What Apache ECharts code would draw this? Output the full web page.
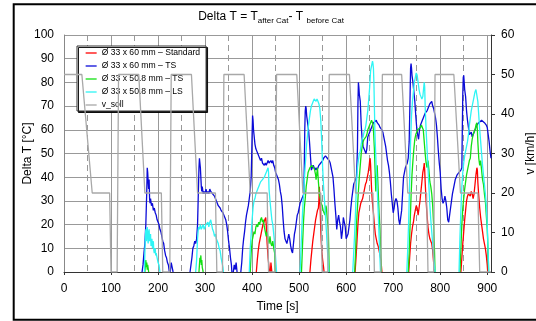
<!DOCTYPE html>
<html>
<head>
<meta charset="utf-8">
<script src="https://cdn.jsdelivr.net/npm/echarts@6/dist/echarts.min.js"></script>
<style>
html,body{margin:0;padding:0;background:#fff;}
#c{width:536px;height:321px;}
</style>
</head>
<body>
<div id="c"></div>
<script>
// ---------- DATA (time [s], value) ----------
const seriesNames = ['Ø 33 x 60 mm – Standard','Ø 33 x 60 mm – TS','Ø 33 x 50.8 mm – TS','Ø 33 x 50.8 mm – LS','v_soll'];

const redStd = [
 [[409,0],[411,5],[413,9],[415,12],[417,14],[419,16],[421,18],[423,20],[425,21],[427,22],[429,23],[430,20],[431,16],[432,12],[433,9],[434,6],[435,4],[437,0]],
 [[439,0],[440,4],[441,2],[442,0]],
 [[523,0],[525,5],[527,9],[529,13],[531,16],[533,19],[535,22],[537,24],[539,26],[541,27],[542,30],[543,36],[544,32],[545,25],[546,18],[547,13],[548,9],[550,5],[552,2],[553,0]],
 [[619,0],[621,6],[623,13],[625,20],[627,25],[629,27],[631,29],[633,30],[635,31],[637,33],[639,35],[641,37],[643,38],[645,40],[647,42],[649,45],[650,47],[651,48],[652,45],[653,40],[654,35],[656,29],[658,25],[660,20],[662,16],[664,14],[666,12],[668,11],[670,9],[672,7],[674,5],[676,0]],
 [[733,0],[735,6],[737,12],[739,16],[741,19],[743,21],[745,24],[747,26],[749,28],[751,27],[753,24],[755,27],[757,30],[759,34],[761,38],[763,42],[765,44],[766,46],[767,43],[768,38],[770,30],[772,24],[774,19],[776,16],[778,14],[780,13],[782,12],[784,9],[786,4],[787,0]],
 [[844,0],[846,6],[848,12],[850,17],[852,22],[854,26],[856,30],[858,32],[860,33],[862,33],[864,32],[866,34],[868,33],[870,31],[872,33],[874,37],[876,41],[878,44],[879,43],[880,38],[882,32],[884,27],[886,23],[888,20],[890,17],[892,14],[894,12],[896,10],[898,7],[900,3],[901,0]]
];

const blueTS = [
 [[166,0],[168,3],[170,8],[172,12],[174,20],[176,34],[177,44],[178,42],[179,38],[180,35],[181,39],[182,31],[183,29],[184,31],[186,28],[188,29],[190,26],[192,27],[194,25],[196,24],[198,22],[200,22],[202,20],[204,18],[206,17],[208,15],[210,13],[212,12],[214,9],[216,7],[218,6],[220,4],[222,3],[224,0]],
 [[226,0],[228,4],[230,2],[232,0]],
 [[268,0],[270,3],[272,6],[274,10],[276,11],[278,13],[280,12],[282,14],[284,20],[285,28],[286,36],[287,44],[288,48],[289,46],[290,44],[291,40],[292,36],[293,34],[294,36],[296,33],[298,34],[300,33],[302,35],[304,33],[306,34],[308,33],[310,35],[312,34],[314,34],[316,33],[318,33],[320,32],[322,31],[324,30],[326,29],[328,28],[330,28],[332,27],[334,26],[336,26],[338,25],[340,24],[342,23],[344,22],[346,20],[348,17],[350,13],[352,10],[354,6],[356,3],[357,0]],
 [[360,0],[362,3],[364,1],[366,4],[368,0]],
 [[376,0],[378,4],[380,10],[382,14],[384,17],[386,21],[388,24],[390,26],[392,28],[394,31],[396,34],[398,40],[399,48],[400,58],[401,66],[402,64],[403,60],[404,58],[406,54],[408,52],[410,51],[412,50],[414,49],[416,48],[418,47],[420,48],[422,46],[424,46],[426,45],[428,46],[430,45],[432,46],[434,47],[436,46],[438,46],[440,47],[442,46],[444,47],[446,45],[448,44],[450,42],[452,41],[454,40],[456,39],[458,37],[460,34],[462,32],[464,28],[466,22],[468,17],[470,14],[472,13],[474,12],[476,14],[478,16],[480,14],[482,11],[484,9],[486,8],[488,12],[490,16],[492,18],[494,21],[496,24],[498,25],[500,27],[502,29],[504,30],[506,31],[508,32],[510,33],[511,45],[512,60],[513,68],[514,70],[515,69],[516,66],[518,63],[520,60],[522,55],[524,49],[525,46],[526,43],[528,44],[530,45],[532,44],[534,43],[536,44],[538,43],[540,44],[542,45],[544,45],[546,46],[548,46],[550,47],[552,48],[554,48],[556,49],[558,49],[560,48],[562,48],[564,47],[566,46],[568,44],[570,42],[572,40],[574,35],[576,29],[578,24],[580,18],[582,22],[584,24],[586,21],[588,19],[590,14],[592,17],[594,23],[596,21],[598,19],[600,14],[602,14],[604,16],[606,19],[608,22],[610,27],[612,31],[614,34],[616,37],[618,38],[620,39],[622,40],[624,52],[625,70],[626,80],[627,78],[628,75],[630,72],[632,62],[634,56],[636,53],[638,52],[640,51],[642,50],[644,52],[646,57],[648,58],[650,59],[652,60],[654,61],[656,62],[658,63],[660,63],[662,63],[664,64],[666,63],[668,63],[670,62],[672,61],[674,61],[676,60],[678,59],[680,57],[682,55],[684,53],[686,50],[688,47],[690,45],[692,42],[694,38],[696,33],[698,29],[700,25],[702,27],[704,30],[706,31],[708,30],[710,27],[712,22],[714,20],[716,23],[718,26],[720,33],[722,40],[724,42],[726,44],[728,45],[730,46],[732,48],[734,55],[736,75],[737,86],[738,88],[739,86],[740,83],[742,80],[744,76],[746,72],[748,66],[750,61],[752,58],[754,56],[756,60],[758,62],[760,63],[762,64],[764,65],[766,66],[768,67],[770,67],[772,68],[774,69],[776,70],[778,71],[780,71],[782,72],[784,70],[786,69],[788,67],[790,65],[792,62],[794,57],[796,51],[798,46],[800,42],[802,35],[804,31],[806,29],[808,30],[810,32],[812,30],[814,27],[816,22],[818,21],[820,24],[822,27],[824,30],[826,33],[828,35],[830,37],[832,39],[834,40],[836,41],[838,41],[840,42],[842,42],[844,43],[846,44],[847,60],[848,75],[849,82],[850,83],[851,80],[852,77],[854,74],[856,68],[858,64],[860,61],[862,58],[864,58],[866,59],[868,57],[870,58],[872,59],[874,60],[876,61],[878,62],[880,62],[882,63],[884,63],[886,63],[888,64],[890,64],[892,64],[894,63],[896,63],[898,62],[900,61],[902,58],[904,55],[906,51],[908,48]]
];

const greenTS = [
 [[172,0],[173,3],[174,5],[175,2],[176,4],[177,1],[178,3],[180,0]],
 [[287,0],[288,3],[289,6],[290,4],[291,7],[292,3],[293,5],[294,2],[296,0]],
 [[396,0],[398,8],[400,13],[402,15],[404,17],[406,16],[408,19],[410,20],[412,19],[414,21],[416,20],[418,22],[420,23],[422,21],[424,22],[426,19],[428,17],[430,15],[432,17],[434,14],[436,12],[438,15],[440,12],[442,11],[444,13],[446,10],[448,8],[449,0]],
 [[505,0],[507,10],[509,20],[511,27],[513,31],[515,36],[517,39],[519,42],[521,43],[523,44],[525,44],[527,45],[529,45],[531,44],[533,43],[535,41],[536,39],[538,42],[539,44],[540,41],[541,38],[543,33],[545,31],[547,29],[549,28],[551,26],[553,25],[555,24],[557,28],[558,27],[560,22],[562,18],[563,10],[564,0]],
 [[618,0],[620,8],[622,20],[624,27],[626,34],[628,40],[630,45],[632,50],[634,53],[636,55],[638,56],[640,56],[642,57],[644,58],[646,60],[648,61],[650,62],[652,63],[654,64],[656,63],[658,60],[660,52],[661,46],[662,40],[663,34],[664,38],[666,45],[667,40],[668,35],[670,25],[672,18],[674,8],[675,0]],
 [[732,0],[734,8],[736,20],[738,32],[740,41],[742,47],[744,52],[746,56],[748,58],[750,59],[752,60],[754,60],[756,60],[758,61],[760,62],[762,61],[764,60],[766,55],[768,50],[770,46],[772,44],[774,47],[776,43],[778,38],[780,36],[782,33],[784,28],[786,20],[788,8],[789,0]],
 [[842,0],[844,10],[846,20],[848,27],[850,31],[852,35],[854,38],[856,41],[858,43],[860,45],[862,47],[864,48],[866,53],[868,56],[870,58],[872,59],[874,60],[876,62],[878,63],[879,60],[880,55],[882,48],[884,45],[886,47],[888,43],[890,39],[892,37],[894,33],[896,30],[898,24],[900,18],[902,8],[903,0]]
];

const cyanLS = [
 [[171,0],[172,8],[173,15],[174,18],[175,13],[176,17],[177,19],[178,14],[179,12],[180,17],[181,18],[182,13],[183,15],[184,16],[185,11],[186,13],[187,14],[188,10],[189,12],[190,13],[191,9],[192,8],[194,10],[195,7],[196,8],[198,6],[200,4],[202,3],[204,0]],
 [[280,0],[282,5],[284,14],[286,19],[288,18],[290,20],[292,18],[294,19],[296,20],[298,18],[300,19],[302,20],[304,20],[306,21],[308,19],[310,21],[312,22],[314,20],[316,18],[318,17],[320,15],[322,16],[324,14],[326,13],[328,12],[330,10],[332,9],[334,6],[336,4],[338,2],[339,0]],
 [[394,0],[396,10],[398,16],[400,22],[402,27],[404,30],[406,31],[408,33],[410,34],[412,35],[414,36],[416,37],[418,38],[420,38],[422,39],[424,39],[426,40],[428,41],[430,42],[432,43],[434,44],[435,42],[436,35],[438,30],[440,26],[442,22],[444,20],[446,16],[448,12],[450,6],[452,0]],
 [[502,0],[504,10],[506,20],[508,28],[510,34],[512,42],[514,48],[516,54],[518,58],[520,62],[522,65],[524,68],[526,70],[528,71],[530,72],[532,73],[534,73],[536,72],[538,73],[540,72],[542,71],[544,69],[546,64],[548,55],[550,44],[552,36],[554,30],[556,24],[558,17],[560,10],[562,3],[563,0]],
 [[614,0],[616,8],[618,16],[620,26],[622,38],[624,44],[626,47],[628,50],[630,51],[632,54],[634,56],[636,57],[638,59],[640,60],[642,62],[644,65],[646,68],[648,73],[650,78],[652,85],[654,87],[656,89],[657,88],[658,86],[659,80],[660,70],[661,60],[662,54],[664,44],[666,35],[668,26],[670,15],[672,5],[673,0]],
 [[729,0],[731,10],[733,22],[735,38],[737,55],[739,66],[741,72],[743,76],[745,80],[747,82],[749,84],[751,83],[753,80],[755,77],[757,75],[759,74],[761,73],[763,74],[765,78],[766,80],[767,78],[768,70],[770,60],[772,52],[774,44],[776,36],[778,28],[780,22],[782,17],[784,12],[786,6],[788,2],[789,0]],
 [[840,0],[842,15],[844,26],[846,36],[848,42],[850,46],[852,49],[854,51],[856,53],[858,55],[860,58],[862,62],[864,65],[866,68],[868,70],[870,72],[872,74],[874,76],[876,77],[878,77],[880,72],[882,66],[884,60],[886,55],[888,50],[890,45],[892,41],[894,37],[896,33],[898,28],[900,20],[902,8],[903,0]]
];

// target speed [km/h]
const vSoll = [[0,50],[38,50],[60,20],[97,20],[100,0],[113,0],[116,50],[159,50],[172,20],[207,20],[210,0],[225,0],[228,50],[271,50],[284,20],[322,20],[325,0],[337,0],[340,50],[383,50],[396,20],[432,20],[435,0],[449,0],[452,50],[495,50],[508,20],[546,20],[549,0],[561,0],[564,50],[607,50],[620,20],[657,20],[660,0],[674,0],[677,50],[718,50],[731,20],[771,20],[774,0],[786,0],[789,50],[829,50],[843,20],[880,20],[884,0],[908,0]];

const xMax = 908, leftMax = 100, rightMax = 60;

// ---------- BUILD ----------
function joinSegs(segs){
  const out = [];
  segs.forEach((s,i)=>{ if(i) out.push([s[0][0]-0.5,'-']); s.forEach(p=>out.push(p)); });
  return out;
}
const FONT = 'Liberation Sans, Arial, sans-serif';
const colors = ['#ff0000','#0b0bd8','#12e012','#2ef5f5','#a8a8a8'];
const segData = [redStd, blueTS, greenTS, cyanLS];

const chart = echarts.init(document.getElementById('c'), null, {renderer:'canvas'});
const series = segData.map((segs,i)=>({
  name: seriesNames[i], type:'line', xAxisIndex:0, yAxisIndex:0,
  data: joinSegs(segs), symbol:'none', showSymbol:false, connectNulls:false,
  lineStyle:{color:colors[i], width:1.3}, itemStyle:{color:colors[i]}, z:2+i, animation:false
}));
series.push({
  name: seriesNames[4], type:'line', xAxisIndex:0, yAxisIndex:1, data: vSoll,
  symbol:'none', showSymbol:false, lineStyle:{color:colors[4], width:1.3}, itemStyle:{color:colors[4]}, z:7, animation:false
});

chart.setOption({
  animation:false,
  backgroundColor:'#fff',
  textStyle:{fontFamily:FONT},
  grid:{left:64, right:45, top:35, bottom:49, containLabel:false, outerBoundsMode:'none'},
  legend:{
    orient:'vertical', left:77, top:46, padding:[2,6,1,8],
    itemWidth:11, itemHeight:10, itemGap:3,
    itemStyle:{opacity:0},
    lineStyle:{width:1.3},
    textStyle:{fontSize:8.6, fontFamily:FONT, color:'#000', lineHeight:10},
    backgroundColor:'#fff', borderColor:'#333', borderWidth:1,
    shadowColor:'rgba(0,0,0,0.9)', shadowOffsetX:1.5, shadowOffsetY:1.5, shadowBlur:0,
    data: seriesNames, selectedMode:false
  },
  xAxis:[
    {type:'value', min:0, max:xMax, interval:100, position:'bottom',
     axisLine:{show:true, onZero:false, lineStyle:{color:'#333', width:1}},
     axisTick:{show:true, length:3, lineStyle:{color:'#333'}},
     axisLabel:{fontSize:12, color:'#000', margin:11, fontFamily:FONT, showMaxLabel:false},
     splitLine:{show:true, lineStyle:{color:'#999', width:1}},
     name:'Time [s]', nameLocation:'middle', nameGap:29, nameMoveOverlap:false,
     nameTextStyle:{fontSize:12, color:'#000', fontFamily:FONT}},
    {type:'value', min:0, max:xMax, interval:50, position:'top',
     axisLine:{show:false}, axisTick:{show:false}, axisLabel:{show:false},
     splitLine:{show:true, lineStyle:{color:'#999', width:1, type:[6,4]}}}
  ],
  yAxis:[
    {type:'value', min:0, max:leftMax, interval:10, position:'left',
     axisLine:{show:true, onZero:false, lineStyle:{color:'#888'}},
     axisTick:{show:false},
     axisLabel:{fontSize:12, color:'#000', margin:10, fontFamily:FONT},
     splitLine:{show:true, lineStyle:{color:'#999', width:1}},
     name:'Delta T [°C]', nameLocation:'middle', nameGap:30, nameRotate:90, nameMoveOverlap:false,
     nameTextStyle:{fontSize:12, color:'#000', fontFamily:FONT}},
    {type:'value', min:0, max:rightMax, interval:10, position:'right',
     axisLine:{show:true, onZero:false, lineStyle:{color:'#333'}},
     axisTick:{show:true, length:4, lineStyle:{color:'#333'}},
     axisLabel:{fontSize:12, color:'#000', margin:10, fontFamily:FONT},
     splitLine:{show:false},
     name:'v [km/h]', nameLocation:'middle', nameGap:34, nameRotate:90, nameMoveOverlap:false,
     nameTextStyle:{fontSize:12, color:'#000', fontFamily:FONT}}
  ],
  graphic:[
    {type:'rect', silent:true, shape:{x:13.7, y:4.3, width:540, height:315.5},
     style:{fill:'none', stroke:'#000', lineWidth:2}},
    {type:'text', silent:true, x:271, y:17,
     style:{
       text:'{a|Delta T = T}{s|after Cat}{a|- T }{s|before Cat}',
       align:'center', verticalAlign:'middle',
       rich:{
         a:{fontSize:12, fontFamily:FONT, fill:'#000', lineHeight:16, verticalAlign:'middle'},
         s:{fontSize:8, fontFamily:FONT, fill:'#000', lineHeight:8, verticalAlign:'bottom'}
       }
     }}
  ],
  series: series
});
</script>
</body>
</html>
